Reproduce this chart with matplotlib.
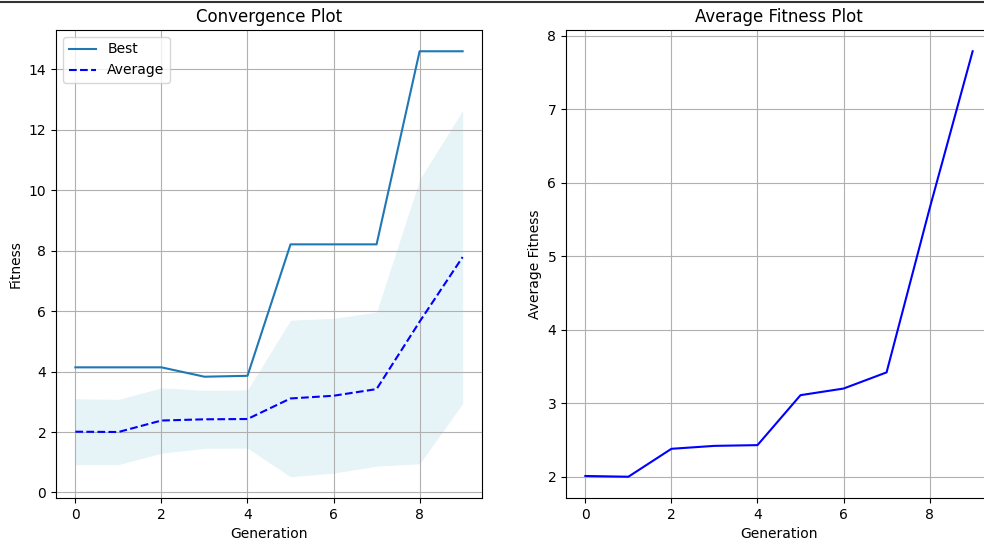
import matplotlib
matplotlib.use("Agg")
import matplotlib.pyplot as plt
from matplotlib.lines import Line2D
import numpy as np

generations = [0, 1, 2, 3, 4, 5, 6, 7, 8, 9]
best_fitness = [4.14, 4.14, 4.14, 3.83, 3.86, 8.21, 8.21, 8.21, 14.6, 14.6]
avg_fitness = [2.01, 2.0, 2.38, 2.42, 2.43, 3.11, 3.2, 3.42, 5.65, 7.79]
std_fitness = [1.09, 1.08, 1.08, 0.96, 0.96, 2.59, 2.56, 2.55, 4.7, 4.85]

W, H = 984, 545
fig = plt.figure(figsize=(W / 100, H / 100), dpi=100)

def px_axes(x0, y0, x1, y1):
    return fig.add_axes([x0 / W, (H - y1) / H, (x1 - x0) / W, (y1 - y0) / H])

FS = 10
ax1 = px_axes(56, 30, 482, 498)
ax2 = px_axes(566, 30, 992, 498)

avg = np.array(avg_fitness)
std = np.array(std_fitness)

ax1.plot(generations, best_fitness, label="Best", color="C0", lw=1.5)
ax1.plot(generations, avg_fitness, "b--", label="Average", lw=1.5)
ax1.fill_between(generations, avg - std, avg + std, color="lightblue", alpha=0.3, lw=0)
ax1.set_title("Convergence Plot", fontsize=12)
ax1.set_xlabel("Generation", fontsize=FS)
ax1.set_ylabel("Fitness", fontsize=FS)
ax1.legend(fontsize=FS, loc="upper left")
ax1.grid(True)

ax2.plot(generations, avg_fitness, "b-", lw=1.5)
ax2.set_title("Average Fitness Plot", fontsize=12)
ax2.set_xlabel("Generation", fontsize=FS)
ax2.set_ylabel("Average Fitness", fontsize=FS)
ax2.grid(True)

for ax in (ax1, ax2):
    ax.tick_params(labelsize=FS)

fig.add_artist(Line2D([0, 1], [1 - 1.5 / H, 1 - 1.5 / H], transform=fig.transFigure,
                      color="#333333", lw=1.5))

fig.savefig("out.png", dpi=100)
